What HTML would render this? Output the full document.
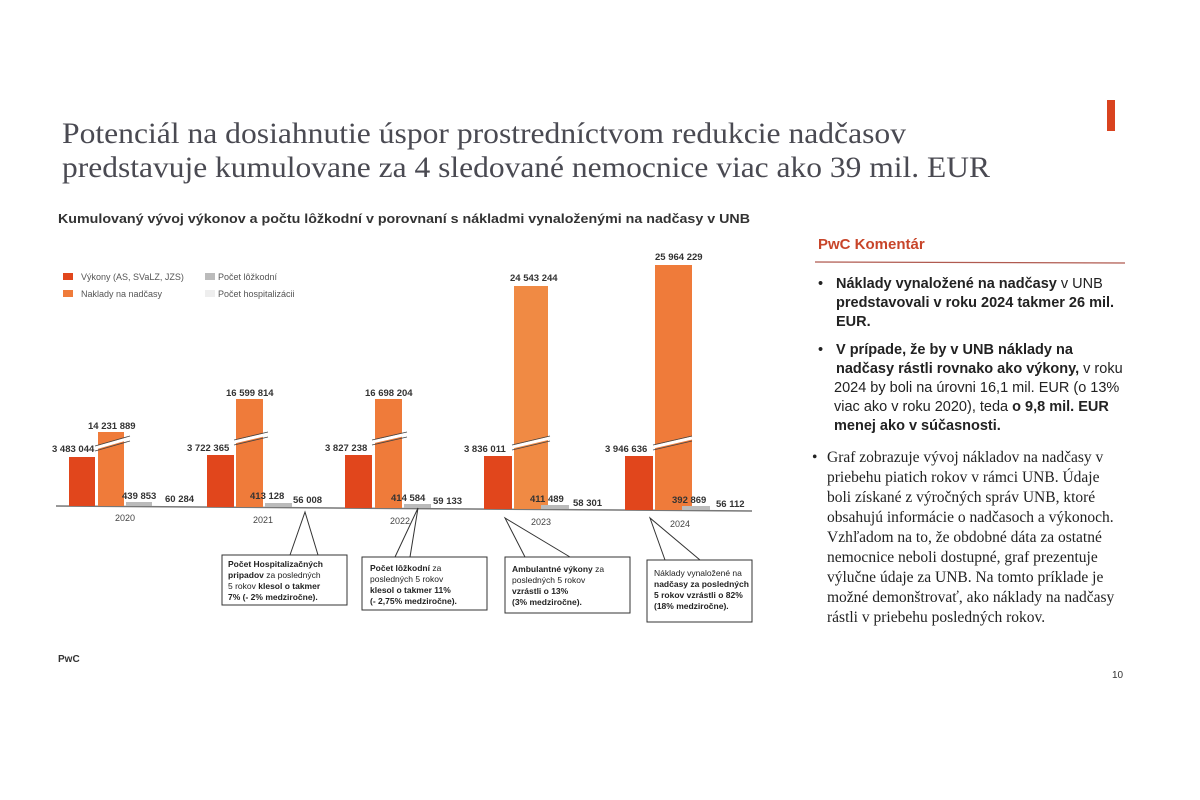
<!DOCTYPE html>
<html><head><meta charset="utf-8"><style>
body{margin:0;background:#fff;}
svg{display:block;}
.s{font-family:"Liberation Sans",sans-serif;}
.sf{font-family:"Liberation Serif",serif;}
</style></head><body>
<svg width="1200" height="800" viewBox="0 0 1200 800" xmlns="http://www.w3.org/2000/svg">
<rect width="1200" height="800" fill="#fff"/>
<rect x="1107" y="100" width="8" height="31" fill="#d9431f"/>
<g class="sf" fill="#4a4a52" font-size="30">
<text x="62" y="143" textLength="844" lengthAdjust="spacingAndGlyphs">Potenciál na dosiahnutie úspor prostredníctvom redukcie nadčasov</text>
<text x="62" y="177" textLength="928" lengthAdjust="spacingAndGlyphs">predstavuje kumulovane za 4 sledované nemocnice viac ako 39 mil. EUR</text>
</g>
<text class="s" x="58" y="223" font-size="13" font-weight="bold" fill="#333" textLength="692" lengthAdjust="spacingAndGlyphs">Kumulovaný vývoj výkonov a počtu lôžkodní v porovnaní s nákladmi vynaloženými na nadčasy v UNB</text>
<g class="s" font-size="9" fill="#555">
<rect x="63" y="273" width="10" height="7" fill="#e1461c"/><text x="81" y="280">Výkony (AS, SVaLZ, JZS)</text>
<rect x="63" y="290" width="10" height="7" fill="#ef7b3a"/><text x="81" y="297">Naklady na nadčasy</text>
<rect x="205" y="273" width="10" height="7" fill="#bbb"/><text x="218" y="280">Počet lôžkodní</text>
<rect x="205" y="290" width="10" height="7" fill="#eee"/><text x="218" y="297">Počet hospitalizácii</text>
</g>
<line x1="56" y1="506" x2="752" y2="511" stroke="#777" stroke-width="1.5"/>
<g>
<rect x="69" y="457" width="26" height="49" fill="#e1461c"/>
<rect x="98" y="432" width="26" height="74" fill="#ef7b3a"/>
<rect x="126" y="502" width="26" height="4" fill="#bbb"/>
<rect x="207" y="455" width="27" height="52" fill="#e1461c"/>
<rect x="236" y="399" width="27" height="108" fill="#ef7b3a"/>
<rect x="265" y="503" width="27" height="4" fill="#bbb"/>
<rect x="345" y="455" width="27" height="53" fill="#e1461c"/>
<rect x="375" y="399" width="27" height="109" fill="#ef7b3a"/>
<rect x="404" y="504" width="27" height="4" fill="#bbb"/>
<rect x="484" y="456" width="28" height="53" fill="#e1461c"/>
<rect x="514" y="286" width="34" height="223" fill="#f08a44"/>
<rect x="541" y="505" width="28" height="4" fill="#bbb"/>
<rect x="625" y="456" width="28" height="54" fill="#e1461c"/>
<rect x="655" y="265" width="37" height="245" fill="#ef7b3a"/>
<rect x="682" y="506" width="28" height="4" fill="#bbb"/>
</g>
<g stroke="#fff" stroke-width="3">
<line x1="95" y1="448" x2="130" y2="438"/>
<line x1="234" y1="442" x2="268" y2="434"/>
<line x1="372" y1="442" x2="407" y2="434"/>
<line x1="512" y1="447" x2="550" y2="438"/>
<line x1="653" y1="447" x2="692" y2="438"/>
</g>
<g stroke="#444" stroke-width="0.8">
<line x1="95" y1="446" x2="130" y2="436"/><line x1="95" y1="451" x2="130" y2="441"/>
<line x1="234" y1="440" x2="268" y2="432"/><line x1="234" y1="445" x2="268" y2="437"/>
<line x1="372" y1="440" x2="407" y2="432"/><line x1="372" y1="445" x2="407" y2="437"/>
<line x1="512" y1="445" x2="550" y2="436"/><line x1="512" y1="450" x2="550" y2="441"/>
<line x1="653" y1="445" x2="692" y2="436"/><line x1="653" y1="450" x2="692" y2="441"/>
</g>
<g class="s" font-size="9.5" font-weight="bold" fill="#333">
<text x="52" y="452">3 483 044</text><text x="88" y="429">14 231 889</text>
<text x="122" y="499">439 853</text><text x="165" y="502">60 284</text>
<text x="187" y="451">3 722 365</text><text x="226" y="396">16 599 814</text>
<text x="250" y="499">413 128</text><text x="293" y="503">56 008</text>
<text x="325" y="451">3 827 238</text><text x="365" y="396">16 698 204</text>
<text x="391" y="501">414 584</text><text x="433" y="504">59 133</text>
<text x="464" y="452">3 836 011</text><text x="510" y="281">24 543 244</text>
<text x="530" y="502">411 489</text><text x="573" y="506">58 301</text>
<text x="605" y="452">3 946 636</text><text x="655" y="260">25 964 229</text>
<text x="672" y="503">392 869</text><text x="716" y="507">56 112</text>
</g>
<g class="s" font-size="9" fill="#444">
<text x="115" y="521">2020</text><text x="253" y="523">2021</text><text x="390" y="524">2022</text><text x="531" y="525">2023</text><text x="670" y="527">2024</text>
</g>
<g fill="#fff" stroke="#333" stroke-width="1">
<rect x="222" y="555" width="125" height="50"/>
<rect x="362" y="557" width="125" height="53"/>
<rect x="505" y="557" width="125" height="56"/>
<rect x="647" y="560" width="105" height="62"/>
</g>
<g fill="none" stroke="#333" stroke-width="1">
<polyline points="290,555 305,512 318,555"/>
<polyline points="395,557 418,508 410,557"/>
<polyline points="525,557 505,518 570,557"/>
<polyline points="665,560 650,518 700,560"/>
</g>
<g class="s" font-size="8.5" fill="#222">
<text x="228" y="567"><tspan font-weight="bold">Počet Hospitalizačných</tspan></text>
<text x="228" y="578"><tspan font-weight="bold">pripadov</tspan> za posledných</text>
<text x="228" y="589">5 rokov <tspan font-weight="bold">klesol o takmer</tspan></text>
<text x="228" y="600" font-weight="bold">7% (- 2% medziročne).</text>
<text x="370" y="571"><tspan font-weight="bold">Počet lôžkodní</tspan> za</text>
<text x="370" y="582">posledných 5 rokov</text>
<text x="370" y="593" font-weight="bold">klesol o takmer 11%</text>
<text x="370" y="604" font-weight="bold">(- 2,75% medziročne).</text>
<text x="512" y="572"><tspan font-weight="bold">Ambulantné výkony</tspan> za</text>
<text x="512" y="583">posledných 5 rokov</text>
<text x="512" y="594" font-weight="bold">vzrástli o 13%</text>
<text x="512" y="605" font-weight="bold">(3% medziročne).</text>
<text x="654" y="576">Náklady vynaložené na</text>
<text x="654" y="587" font-weight="bold">nadčasy za posledných</text>
<text x="654" y="598" font-weight="bold">5 rokov vzrástli o 82%</text>
<text x="654" y="609" font-weight="bold">(18% medziročne).</text>
</g>
<text class="s" x="818" y="249" font-size="15" font-weight="bold" fill="#c8452a">PwC Komentár</text>
<line x1="815" y1="262" x2="1125" y2="263" stroke="#b05a50" stroke-width="1.2"/>
<g class="s" font-size="14.5" fill="#222">
<text x="818" y="288">•</text>
<text x="836" y="288"><tspan font-weight="bold">Náklady vynaložené na nadčasy</tspan> v  UNB</text>
<text x="836" y="307" font-weight="bold">predstavovali v roku 2024 takmer 26 mil.</text>
<text x="836" y="326" font-weight="bold">EUR.</text>
<text x="818" y="354">•</text>
<text x="836" y="354" font-weight="bold">V prípade, že by v UNB náklady na</text>
<text x="836" y="373"><tspan font-weight="bold">nadčasy rástli rovnako ako výkony,</tspan> v roku</text>
<text x="834" y="392">2024 by boli na úrovni 16,1 mil. EUR (o 13%</text>
<text x="834" y="411">viac ako v roku 2020), teda <tspan font-weight="bold">o 9,8 mil. EUR</tspan></text>
<text x="834" y="430" font-weight="bold">menej ako v súčasnosti.</text>
</g>
<g class="sf" font-size="15.5" fill="#222">
<text x="812" y="462">•</text>
<text x="827" y="462">Graf zobrazuje vývoj nákladov na nadčasy v</text>
<text x="827" y="482">priebehu piatich rokov v rámci UNB. Údaje</text>
<text x="827" y="502">boli získané z výročných správ UNB, ktoré</text>
<text x="827" y="522">obsahujú informácie o nadčasoch a výkonoch.</text>
<text x="827" y="542">Vzhľadom na to, že obdobné dáta za ostatné</text>
<text x="827" y="562">nemocnice neboli dostupné, graf prezentuje</text>
<text x="827" y="582">výlučne údaje za UNB. Na tomto príklade je</text>
<text x="827" y="602">možné demonštrovať, ako náklady na nadčasy</text>
<text x="827" y="622">rástli v priebehu posledných rokov.</text>
</g>
<text class="s" x="58" y="662" font-size="10" font-weight="bold" fill="#333">PwC</text>
<text class="s" x="1112" y="678" font-size="10" fill="#333">10</text>
</svg>
</body></html>
